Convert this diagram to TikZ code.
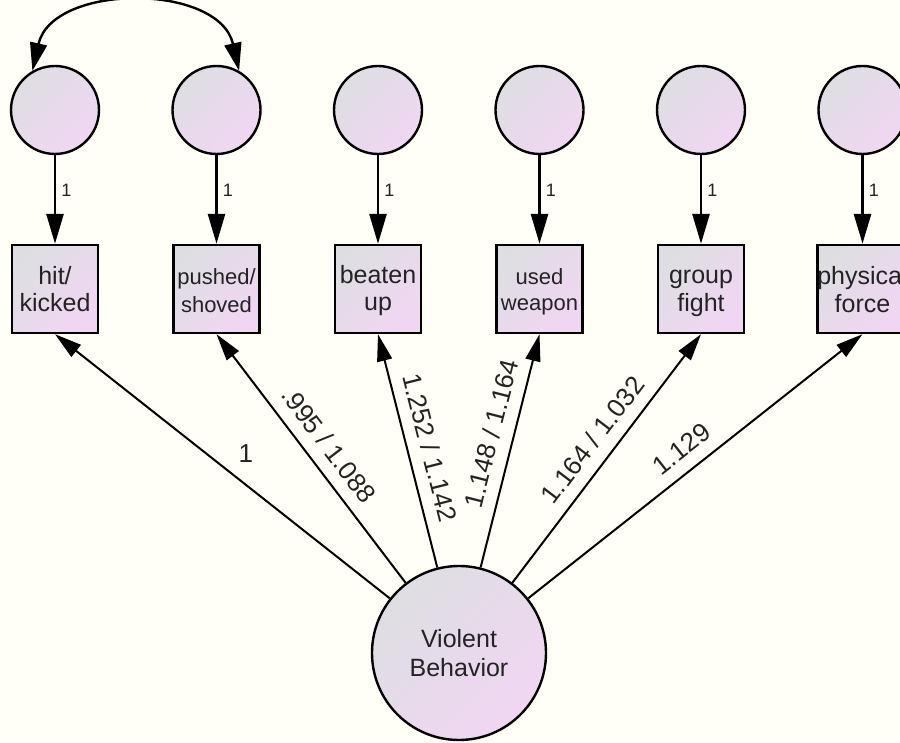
\documentclass[tikz,border=0pt]{standalone}
\usepackage{fontspec}
\setmainfont{Liberation Sans}
\usetikzlibrary{arrows.meta}
\definecolor{bgcream}{RGB}{255,255,247}
\definecolor{fillgray}{RGB}{222,222,226}
\definecolor{fillpink}{RGB}{241,214,243}
\definecolor{inkgray}{RGB}{35,35,35}
\newcommand{\boxfont}{\fontsize{25}{27}\selectfont}
\newcommand{\smallboxfont}{\fontsize{22}{24}\selectfont}
\newcommand{\tstrut}{\rule[-3pt]{0pt}{25pt}}
\tikzstyle{latent}=[draw=black,line width=2.4pt,circle,top color=fillgray,bottom color=fillpink,shading angle=45,inner sep=0pt,text=inkgray]
\tikzstyle{observed}=[draw=black,line width=2.4pt,rectangle,top color=fillgray,bottom color=fillpink,shading angle=45,minimum width=86pt,minimum height=88pt,inner sep=0pt,align=center,text=inkgray,font=\boxfont]
\tikzstyle{toparrow}=[line width=2.8pt,-{Triangle[length=30pt,width=17pt]}]
\tikzstyle{loading}=[line width=2pt,-{Triangle[length=27pt,width=15pt]}]
\tikzstyle{wlabel}=[sloped,above=10pt,pos=.5,inner sep=2pt,text=inkgray,font=\fontsize{26}{26}\selectfont]

\begin{document}
\begin{tikzpicture}[x=1pt,y=1pt]
	%background
	\useasboundingbox (0,0) rectangle (900,742);
	\fill[bgcream] (0,0) rectangle (900,742);
	%error terms
	\foreach \i/\x in {1/55,2/216.5,3/378,4/539.5,5/701,6/862.5}
	\node[latent,minimum size=88pt] (c\i) at (\x,632) {};
	%indicators
	\node[observed] (b1) at (55,453) {\tstrut hit/\\kicked\tstrut};
	\node[observed,font=\smallboxfont] (b2) at (216.5,453) {\tstrut pushed/\\shoved\tstrut};
	\node[observed] (b3) at (378,453) {\tstrut beaten\\up\tstrut};
	\node[observed,font=\smallboxfont] (b4) at (539.5,453) {\tstrut used\\weapon\tstrut};
	\node[observed] (b5) at (701,453) {\tstrut group\\fight\tstrut};
	\node[observed] (b6) at (862.5,453) {\tstrut physical\\force\tstrut};
	%factor
	\node[latent,minimum size=174pt,align=center,font=\fontsize{25}{29}\selectfont] (vb) at (459,89) {Violent\\Behavior};
	%error paths
	\foreach \i in {1,...,6}
	\draw[toparrow] (c\i) -- (b\i)
	node[pos=.4,right=3pt,inner sep=2pt,text=inkgray,font=\fontsize{18}{18}\selectfont] {1};
	%covariance
	\draw[line width=2.4pt,{Triangle[length=28pt,width=17pt]}-{Triangle[length=28pt,width=17pt]}]
	(c1.120) .. controls +(20,88) and +(-20,88) .. (c2.60);
	%loadings
	\draw[loading] (vb) -- (b1.south)
	node[pos=.43,above=19pt,inner sep=2pt,text=inkgray,font=\fontsize{26}{26}\selectfont] {1};
	\draw[loading] (vb) -- (b2.south) node[wlabel] {.995 / 1.088};
	\draw[loading] (vb) -- (b3.south) node[wlabel,pos=.49] {1.252 / 1.142};
	\draw[loading] (vb) -- (b4.south) node[wlabel,pos=.55] {1.148 / 1.164};
	\draw[loading] (vb) -- (b5.south) node[wlabel,pos=.52] {1.164 / 1.032};
	\draw[loading] (vb) -- (b6.south) node[wlabel] {1.129};
\end{tikzpicture}
\end{document}
